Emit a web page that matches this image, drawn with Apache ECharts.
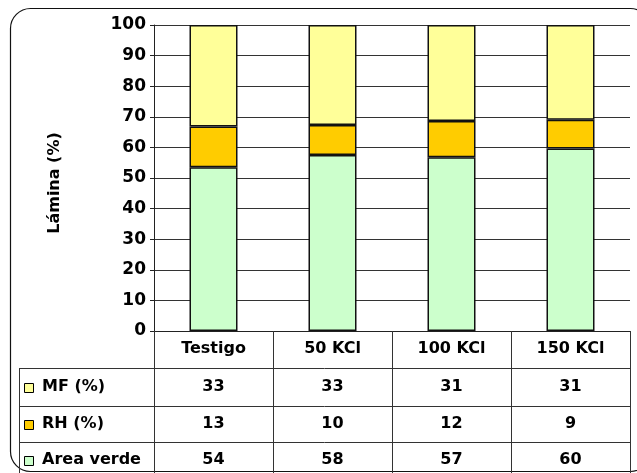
<!DOCTYPE html>
<html><head><meta charset="utf-8">
<script src="https://cdn.jsdelivr.net/npm/echarts@6/dist/echarts.min.js"></script>
<style>html,body{margin:0;padding:0;background:#fff}#c{width:637px;height:473px}</style>
</head><body><div id="c"></div>
<script>
const categories = ['Testigo', '50 KCl', '100 KCl', '150 KCl'];
const areaVerde = [53.5, 57.5, 56.8, 59.6];
const rh = [13.3, 9.8, 11.8, 9.4];
const mf = [33.2, 32.7, 31.4, 31.0];
const yAxisTitle = 'Lámina (%)';
const rowNames = ['MF (%)', 'RH (%)', 'Area verde'];
const rowData = [mf, rh, areaVerde];
const colors = { mf: '#FFFF99', rh: '#FFCC00', verde: '#CCFFCC' };
const rowColors = [colors.mf, colors.rh, colors.verde];

const FONT = '"DejaVu Sans", Verdana, sans-serif';
const chart = echarts.init(document.getElementById('c'), null, { renderer: 'canvas' });

const barStyle = c => ({ color: c, borderColor: '#111', borderWidth: 1.5 });
chart.setOption({
  animation: false,
  backgroundColor: '#fff',
  grid: { left: 154, right: 7, top: 25, bottom: 142, containLabel: false },
  xAxis: {
    type: 'category', data: categories,
    axisLine: { show: true, lineStyle: { color: '#222', width: 1 } },
    axisTick: { show: false }, axisLabel: { show: false }, splitLine: { show: false }
  },
  yAxis: {
    type: 'value', min: 0, max: 100, interval: 10,
    axisLine: { show: true, lineStyle: { color: '#222', width: 1 } },
    axisTick: { show: true, inside: false, length: 4, lineStyle: { color: '#222' } },
    axisLabel: { color: '#000', fontFamily: FONT, fontWeight: 'bold', fontSize: 17, margin: 8 },
    splitLine: { show: true, lineStyle: { color: '#333', width: 1 } }
  },
  series: [
    { name: rowNames[2], type: 'bar', stack: 't', data: areaVerde, barWidth: 48, itemStyle: barStyle(colors.verde) },
    { name: rowNames[1], type: 'bar', stack: 't', data: rh, barWidth: 48, itemStyle: barStyle(colors.rh) },
    { name: rowNames[0], type: 'bar', stack: 't', data: mf, barWidth: 48, itemStyle: barStyle(colors.mf) }
  ]
});

// Build data table below the plot
const g = [];
const x0 = chart.convertToPixel({ xAxisIndex: 0 }, 0);
const x1 = chart.convertToPixel({ xAxisIndex: 0 }, 1);
const band = x1 - x0;
const left = x0 - band / 2;
const right = chart.convertToPixel({ xAxisIndex: 0 }, categories.length - 1) + band / 2;
const yTop = chart.convertToPixel({ yAxisIndex: 0 }, 0);
const rowLines = [yTop + 37, yTop + 75, yTop + 111];
const tableBottom = 480;
const legendLeft = 19;
const lineStyle = { stroke: '#333', lineWidth: 1 };

function line(x1, y1, x2, y2) {
  g.push({ type: 'line', shape: { x1, y1, x2, y2 }, style: lineStyle, silent: true, z: 10 });
}
for (let i = 0; i <= categories.length; i++) {
  const x = Math.round(left + band * i) + 0.5;
  line(x, yTop, x, tableBottom);
}
line(legendLeft + 0.5, rowLines[0], legendLeft + 0.5, tableBottom);
rowLines.forEach(y => line(legendLeft, y + 0.5, right, y + 0.5));

const textStyle = { fill: '#000', fontFamily: FONT, fontWeight: 'bold', fontSize: 16, align: 'center', verticalAlign: 'middle' };
categories.forEach((c, i) => {
  const cx = chart.convertToPixel({ xAxisIndex: 0 }, i);
  g.push({ type: 'text', x: cx, y: yTop + 18, style: Object.assign({ text: c }, textStyle), z: 11 });
});
const rowCenters = [(rowLines[0] + rowLines[1]) / 2, (rowLines[1] + rowLines[2]) / 2, rowLines[2] + 18];
rowNames.forEach((name, r) => {
  const cy = rowCenters[r];
  g.push({ type: 'rect', shape: { x: 24.5, y: Math.round(cy - 4) + 0.5, width: 9, height: 9 },
    style: { fill: rowColors[r], stroke: '#000', lineWidth: 1 }, z: 11 });
  g.push({ type: 'text', x: 42, y: cy, style: Object.assign({ text: name }, textStyle, { align: 'left' }), z: 11 });
  rowData[r].forEach((v, i) => {
    const cx = chart.convertToPixel({ xAxisIndex: 0 }, i);
    g.push({ type: 'text', x: cx, y: cy, style: Object.assign({ text: String(Math.round(v)) }, textStyle), z: 11 });
  });
});
g.push({ type: 'text', x: 55, y: 183, rotation: Math.PI / 2,
  style: Object.assign({ text: yAxisTitle }, textStyle), z: 11 });
g.push({ type: 'rect', shape: { x: 10.5, y: 8.5, width: 640, height: 463, r: 20 },
  style: { fill: 'none', stroke: '#111', lineWidth: 1.2 }, silent: true, z: 0 });

chart.setOption({ graphic: g });
</script>
</body></html>
